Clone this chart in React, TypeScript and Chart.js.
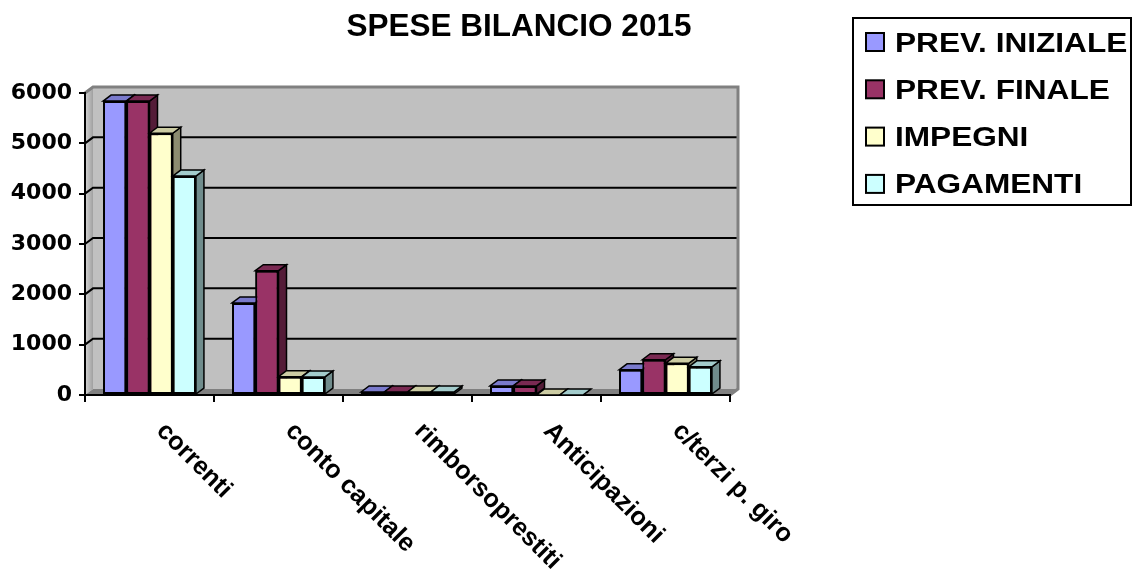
import React, { useEffect, useRef } from "react";
import { Chart, registerables } from "chart.js";

Chart.register(...registerables);

const TITLE = "SPESE BILANCIO 2015";
const categories = ["correnti", "conto capitale", "rimborsoprestiti", "Anticipazioni", "c/terzi p. giro"];
const seriesNames = ["PREV. INIZIALE", "PREV. FINALE", "IMPEGNI", "PAGAMENTI"];
const prevIniziale = [5840, 1830, 60, 180, 500];
const prevFinale = [5840, 2470, 60, 180, 700];
const impegni = [5200, 365, 60, 0, 630];
const pagamenti = [4350, 360, 60, 0, 560];
const seriesValues = [prevIniziale, prevFinale, impegni, pagamenti];
const seriesColors = ["#9999FF", "#993366", "#FFFFCC", "#CCFFFF"];
const yMin = 0;
const yMax = 6000;
const yStep = 1000;

const DX = 8;
const DY = -6;

function shade(hex: string, f: number): string {
  const n = parseInt(hex.slice(1), 16);
  const r = Math.round(((n >> 16) & 255) * f);
  const g = Math.round(((n >> 8) & 255) * f);
  const b = Math.round((n & 255) * f);
  return `rgb(${r},${g},${b})`;
}

function poly(ctx: CanvasRenderingContext2D, pts: number[][], fill: any, stroke?: string, lw = 1.5) {
  ctx.beginPath();
  ctx.moveTo(pts[0][0], pts[0][1]);
  for (let i = 1; i < pts.length; i++) ctx.lineTo(pts[i][0], pts[i][1]);
  ctx.closePath();
  ctx.fillStyle = fill;
  ctx.fill();
  if (stroke) {
    ctx.strokeStyle = stroke;
    ctx.lineWidth = lw;
    ctx.lineJoin = "miter";
    ctx.stroke();
  }
}

const wallsPlugin = {
  id: "walls3d",
  beforeDraw(chart: any) {
    const { ctx, chartArea: a, scales } = chart;
    const y = scales.y;
    ctx.save();
    ctx.fillStyle = "#C0C0C0";
    ctx.fillRect(a.left + DX, a.top + DY, a.right - a.left, a.bottom - a.top);
    const grad = ctx.createLinearGradient(a.left, 0, a.left + DX, 0);
    grad.addColorStop(0, "#D4D4D4");
    grad.addColorStop(1, "#A0A0A0");
    poly(ctx, [[a.left, a.bottom], [a.left, a.top], [a.left + DX, a.top + DY], [a.left + DX, a.bottom + DY]], grad);
    poly(ctx, [[a.left, a.bottom], [a.right, a.bottom], [a.right + DX, a.bottom + DY], [a.left + DX, a.bottom + DY]], "#808080");
    ctx.strokeStyle = "#000";
    ctx.lineWidth = 2;
    for (const t of y.ticks) {
      if (t.value <= yMin || t.value >= yMax) continue;
      const py = y.getPixelForValue(t.value);
      ctx.beginPath();
      ctx.moveTo(a.left, py);
      ctx.lineTo(a.left + DX, py + DY);
      ctx.lineTo(a.right + DX, py + DY);
      ctx.stroke();
    }
    ctx.strokeStyle = "#808080";
    ctx.lineWidth = 3;
    ctx.beginPath();
    ctx.moveTo(a.left, a.top);
    ctx.lineTo(a.left + DX, a.top + DY);
    ctx.lineTo(a.right + DX, a.top + DY);
    ctx.lineTo(a.right + DX, a.bottom + DY);
    ctx.lineTo(a.right, a.bottom);
    ctx.stroke();
    ctx.restore();
  },
  afterDatasetsDraw(chart: any) {
    const ctx = chart.ctx;
    const n = chart.data.labels.length;
    const metas = chart.data.datasets.map((_: any, i: number) => chart.getDatasetMeta(i));
    ctx.save();
    for (let j = 0; j < n; j++) {
      for (let i = 0; i < metas.length; i++) {
        const el = metas[i].data[j];
        if (!el) continue;
        el.draw(ctx);
        const { x, y, base, width } = el.getProps(["x", "y", "base", "width"], true);
        const l = x - width / 2;
        const r = x + width / 2;
        const t = Math.min(y, base);
        const b = Math.max(y, base);
        const col = seriesColors[i];
        poly(ctx, [[r, t], [r + DX, t + DY], [r + DX, b + DY], [r, b]], shade(col, 0.55), "#000");
        poly(ctx, [[l, t], [l + DX, t + DY], [r + DX, t + DY], [r, t]], shade(col, 0.8), "#000");
      }
    }
    ctx.restore();
  },
  afterDraw(chart: any) {
    const { ctx, scales } = chart;
    const xs = scales.x;
    ctx.save();
    ctx.fillStyle = "#000";
    ctx.font = "bold 31.5px 'Liberation Sans', Arial, sans-serif";
    ctx.textAlign = "center";
    ctx.textBaseline = "alphabetic";
    ctx.fillText(TITLE, 519, 36);
    ctx.font = "bold 25.5px 'Liberation Sans', Arial, sans-serif";
    ctx.textAlign = "left";
    chart.data.labels.forEach((lab: string, i: number) => {
      const px = xs.getPixelForValue(i);
      ctx.save();
      ctx.translate(px + 6, 432);
      ctx.rotate(Math.PI / 4);
      ctx.fillText(lab, 0, 0);
      ctx.restore();
    });
    ctx.strokeStyle = "#000";
    ctx.lineWidth = 2;
    ctx.strokeRect(853, 18, 278, 187);
    seriesNames.forEach((name, i) => {
      const cy = 42 + i * 47.3;
      ctx.fillStyle = seriesColors[i];
      ctx.fillRect(866, cy - 9, 18, 18);
      ctx.strokeStyle = "#000";
      ctx.lineWidth = 2;
      ctx.strokeRect(866, cy - 9, 18, 18);
      ctx.save();
      ctx.translate(895, cy + 9.5);
      ctx.scale(1.17, 1);
      ctx.fillStyle = "#000";
      ctx.font = "bold 27px 'Liberation Sans', Arial, sans-serif";
      ctx.textAlign = "left";
      ctx.textBaseline = "alphabetic";
      ctx.fillText(name, 0, 0);
      ctx.restore();
    });
    ctx.restore();
  },
};

export default function App() {
  const ref = useRef<HTMLCanvasElement | null>(null);
  useEffect(() => {
    if (!ref.current) return;
    const chart = new Chart(ref.current, {
      type: "bar",
      data: {
        labels: categories,
        datasets: seriesNames.map((name, i) => ({
          label: name,
          data: seriesValues[i],
          backgroundColor: seriesColors[i],
          borderColor: "#000",
          borderWidth: 2,
          borderSkipped: false,
          categoryPercentage: 0.72,
          barPercentage: 1.0,
        })),
      },
      options: {
        responsive: false,
        animation: false,
        events: [],
        layout: { padding: { left: 0, top: 93, right: 403, bottom: 0 } },
        plugins: {
          legend: { display: false },
          title: { display: false },
          tooltip: { enabled: false },
        },
        scales: {
          x: {
            ticks: { display: false },
            grid: { offset: true, drawOnChartArea: false, drawTicks: true, tickLength: 7, color: "#000", lineWidth: 2 },
            border: { display: true, color: "#000", width: 2 },
            afterFit: (s: any) => { s.height = 176; },
          },
          y: {
            min: yMin,
            max: yMax,
            ticks: {
              stepSize: yStep,
              color: "#000",
              padding: 7,
              font: { family: "'DejaVu Sans'", weight: "bold", size: 22 },
              callback: (v: any) => String(v),
            },
            grid: { drawOnChartArea: false, drawTicks: true, tickLength: 6, color: "#000", lineWidth: 2 },
            border: { display: true, color: "#000", width: 2 },
            afterFit: (s: any) => { s.width = 85; },
          },
        },
      },
      plugins: [wallsPlugin],
    } as any);
    return () => chart.destroy();
  }, []);
  return (
    <div style={{ position: "absolute", left: 0, top: 0, width: 1133, height: 571, background: "#fff" }}>
      <canvas ref={ref} width={1133} height={571} style={{ display: "block" }} />
    </div>
  );
}
